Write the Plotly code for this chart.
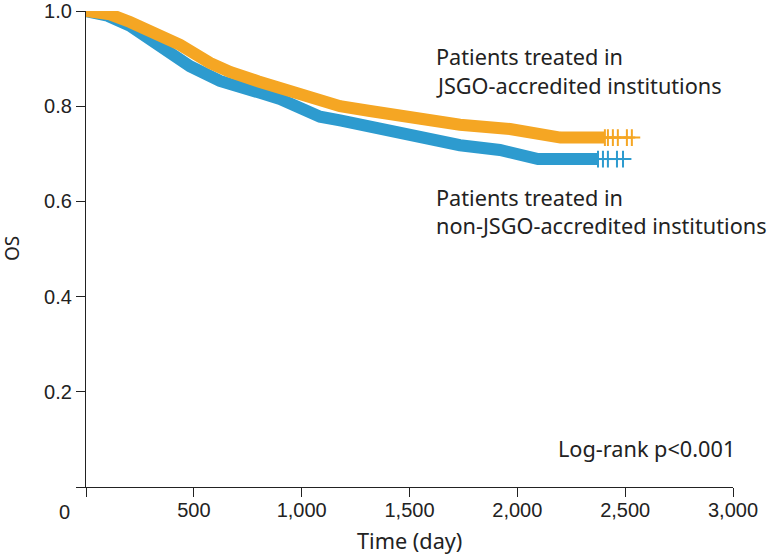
import plotly.graph_objects as go

# ---- data ----
jsgo_time = [0, 111, 204, 297, 436, 575, 668, 800, 900, 1000, 1178, 1317, 1450, 1641, 1734, 1966, 2105, 2151, 2200, 2406]
jsgo_surv = [1.0, 0.993, 0.977, 0.958, 0.929, 0.891, 0.872, 0.852, 0.838, 0.826, 0.800, 0.790, 0.781, 0.766, 0.761, 0.752, 0.744, 0.739, 0.734, 0.734]
jsgo_censor_time = [2406, 2420, 2443, 2466, 2508, 2531]
jsgo_censor_surv = [0.734, 0.734, 0.734, 0.734, 0.734, 0.734]

non_time = [0, 100, 204, 343, 482, 621, 714, 807, 900, 1000, 1085, 1178, 1317, 1548, 1734, 1919, 2045, 2080, 2096, 2374]
non_surv = [1.0, 0.99, 0.969, 0.924, 0.884, 0.853, 0.838, 0.828, 0.815, 0.797, 0.778, 0.770, 0.756, 0.738, 0.718, 0.708, 0.697, 0.692, 0.689, 0.689]
non_censor_time = [2374, 2397, 2420, 2462, 2490]
non_censor_surv = [0.689, 0.689, 0.689, 0.689, 0.689]

x_tickvals = [0, 500, 1000, 1500, 2000, 2500, 3000]
x_ticktext = ["", "500", "1,000", "1,500", "2,000", "2,500", "3,000"]
y_tickvals = [0, 0.2, 0.4, 0.6, 0.8, 1.0]
y_ticktext = ["", "0.2", "0.4", "0.6", "0.8", "1.0"]

ORANGE = "#F5A623"
BLUE = "#2D9BCF"
AXIS = "#222222"
TXT = "#222222"
ANN_FONT = "Noto Sans"
TICK_FONT = "Liberation Sans, Arial"
ANN_SIZE = 21.7

fig = go.Figure()

# non-JSGO (blue) first, underneath
fig.add_trace(go.Scatter(x=non_time, y=non_surv, mode="lines",
                         line=dict(color=BLUE, width=12), cliponaxis=False,
                         showlegend=False, hoverinfo="skip"))
fig.add_trace(go.Scatter(x=non_censor_time, y=non_censor_surv, mode="lines+markers",
                         line=dict(color=BLUE, width=2),
                         marker=dict(symbol="cross-thin", size=12, line=dict(color=BLUE, width=2)),
                         cliponaxis=False, showlegend=False, hoverinfo="skip"))
# JSGO (orange) on top
fig.add_trace(go.Scatter(x=jsgo_time, y=jsgo_surv, mode="lines",
                         line=dict(color=ORANGE, width=12), cliponaxis=False,
                         showlegend=False, hoverinfo="skip"))
fig.add_trace(go.Scatter(x=jsgo_censor_time, y=jsgo_censor_surv, mode="lines+markers",
                         line=dict(color=ORANGE, width=2),
                         marker=dict(symbol="cross-thin", size=12, line=dict(color=ORANGE, width=2)),
                         cliponaxis=False, showlegend=False, hoverinfo="skip"))

ann = []
def label(text, x, y, anchor="left", xshift=0):
    ann.append(dict(text=text, x=x, y=y, xref="x", yref="y", xanchor=anchor, yanchor="middle",
                    xshift=xshift, showarrow=False,
                    font=dict(family=ANN_FONT, size=ANN_SIZE, color=TXT)))

label("Patients treated in", 1627, 0.904, xshift=-3)
label("JSGO-accredited institutions", 1627, 0.843, xshift=-3)
label("Patients treated in", 1627, 0.609, xshift=-3)
label("non-JSGO-accredited institutions", 1627, 0.549, xshift=-3)
label("Log-rank p<0.001", 3000, 0.080, anchor="right", xshift=4)

# origin "0" label, offset left like the reference
ann.append(dict(text="0", x=0, y=0, xref="x", yref="y", xanchor="center", yanchor="top",
                xshift=-22, yshift=-12, showarrow=False,
                font=dict(family=TICK_FONT, size=20, color=TXT)))
# y-axis title
ann.append(dict(text="OS", x=0, y=0.5, xref="paper", yref="paper", xanchor="center", yanchor="middle",
                xshift=-74, textangle=-90, showarrow=False,
                font=dict(family=ANN_FONT, size=19, color=TXT)))
# x-axis title
ann.append(dict(text="Time (day)", x=0.5, y=0, xref="paper", yref="paper", xanchor="center", yanchor="middle",
                yshift=-53, showarrow=False,
                font=dict(family=ANN_FONT, size=ANN_SIZE, color=TXT)))

fig.update_layout(
    width=768, height=559,
    margin=dict(l=86, r=35, t=11, b=72, autoexpand=False),
    paper_bgcolor="white", plot_bgcolor="white",
    annotations=ann,
    xaxis=dict(range=[0, 3000], tickvals=x_tickvals, ticktext=x_ticktext, automargin=False,
               showline=True, linecolor=AXIS, linewidth=1.3, ticks="outside", ticklen=9,
               tickwidth=1.3, tickcolor=AXIS, showgrid=False, zeroline=False,
               ticklabelstandoff=-4,
               tickfont=dict(family=TICK_FONT, size=20, color=TXT)),
    yaxis=dict(range=[0, 1.0], tickvals=y_tickvals, ticktext=y_ticktext, automargin=False,
               showline=True, linecolor=AXIS, linewidth=1.3, ticks="outside", ticklen=9,
               tickwidth=1.3, tickcolor=AXIS, showgrid=False, zeroline=False,
               tickfont=dict(family=TICK_FONT, size=20, color=TXT)),
)

fig.write_html("out.html", config={"displayModeBar": False},
               post_script="document.body.style.margin='0';document.body.style.overflow='hidden';")
